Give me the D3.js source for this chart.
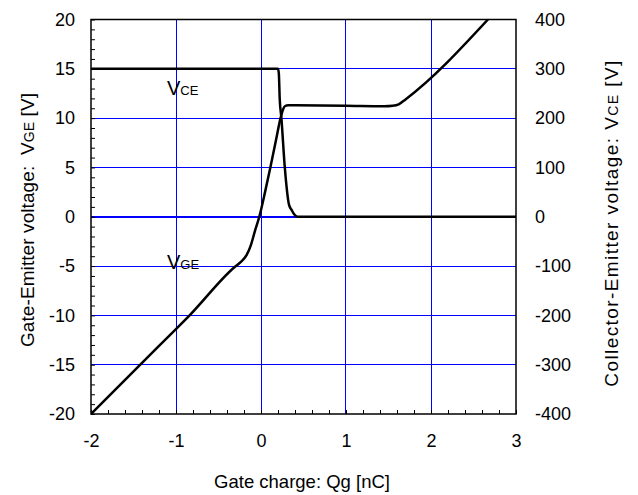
<!DOCTYPE html>
<html><head><meta charset="utf-8">
<script src="https://cdn.jsdelivr.net/npm/d3@7"></script>
<style>body{margin:0;background:#fff}svg{font-family:"Liberation Sans",Arial,sans-serif}</style>
</head><body><svg id="c" width="638" height="495"></svg>
<script>
// Data
const xTicks = [-2,-1,0,1,2,3];
const yLeftTicks = [-20,-15,-10,-5,0,5,10,15,20];
const yRightTicks = [-400,-300,-200,-100,0,100,200,300,400];
// Gate-emitter voltage VGE [V] vs gate charge Qg [nC]
const vgeQ = [-2,-1.2,-0.84,-0.31,-0.24,-0.17,-0.12,-0.07,-0.02,0.05,0.11,0.17,0.23,0.26,0.28,0.32,1.0,1.45,1.55,1.62,1.7,2.67];
const vgeV = [-20,-13.1,-10,-5.1,-4.6,-3.9,-2.9,-1.4,0,2.6,5,7.5,10,10.9,11.2,11.3,11.25,11.2,11.25,11.4,11.9,20];
// Collector-emitter voltage VCE [V] vs gate charge Qg [nC]
const vceQ = [-2,0.2,0.21,0.22,0.24,0.28,0.33,0.36,0.39,0.43,3];
const vceV = [300,300,290,240,200,100,24,14,5,0,0];

const svg = d3.select("#c");
const L=91,R=516,T=19.5,B=414;
const x = d3.scaleLinear([-2,3],[L,R]);
const y = d3.scaleLinear([-20,20],[B,T]);
const yR = d3.scaleLinear([-400,400],[B,T]);
const fmt = d => String(d);
const snap = v => Math.floor(v) + 0.5;

// grid
const g = svg.append("g").attr("class","grid").attr("shape-rendering","crispEdges");
g.selectAll("line.gx").data(xTicks.filter(d=>d>-2&&d<3)).join("line").attr("class","gx")
  .attr("x1",d=>snap(x(d))).attr("x2",d=>snap(x(d))).attr("y1",T).attr("y2",B)
  .attr("stroke","#0000ff").attr("stroke-width",1);
g.selectAll("line.gy").data(yLeftTicks.filter(d=>d>-20&&d<20&&d!==0)).join("line").attr("class","gy")
  .attr("x1",L).attr("x2",R).attr("y1",d=>snap(y(d))).attr("y2",d=>snap(y(d)))
  .attr("stroke","#0000ff").attr("stroke-width",1);
g.append("line").attr("x1",L).attr("x2",R).attr("y1",y(0)).attr("y2",y(0))
  .attr("stroke","#0000ff").attr("stroke-width",2.5);

// minor ticks via axes
const minorY = d3.range(-20,21,1);
const ay = svg.append("g").attr("transform",`translate(${L},0)`)
  .call(d3.axisRight(y).tickValues(minorY).tickSize(4).tickFormat(""));
const minorX = d3.range(0,26).map(i=>-2+i*0.2);
const ax = svg.append("g").attr("transform",`translate(0,${B})`)
  .call(d3.axisTop(x).tickValues(minorX).tickSize(4).tickFormat(""));
[ay,ax].forEach(a=>{a.select(".domain").remove();a.selectAll("line").attr("stroke","#000").attr("stroke-width",1);});

// tick labels
const axL = svg.append("g").attr("transform",`translate(${L},0)`)
  .call(d3.axisLeft(y).tickValues(yLeftTicks).tickSize(0).tickPadding(16).tickFormat(fmt));
const axR = svg.append("g").attr("transform",`translate(${R},0)`)
  .call(d3.axisRight(yR).tickValues(yRightTicks).tickSize(0).tickPadding(19).tickFormat(fmt));
const axB = svg.append("g").attr("transform",`translate(0,${B})`)
  .call(d3.axisBottom(x).tickValues(xTicks).tickSize(0).tickPadding(20).tickFormat(fmt));
[axL,axR,axB].forEach(a=>{a.select(".domain").remove();
  a.selectAll("text").attr("font-size",18).attr("fill","#000").attr("font-family","Liberation Sans, Arial, sans-serif");});

// clip
svg.append("clipPath").attr("id","clip").append("rect").attr("x",L).attr("y",T).attr("width",R-L).attr("height",B-T);

const line = d3.line().curve(d3.curveMonotoneX);
svg.append("path").attr("clip-path","url(#clip)")
  .attr("d", line(vceQ.map((q,i)=>[x(q),yR(vceV[i])])))
  .attr("fill","none").attr("stroke","#000").attr("stroke-width",2.5);
svg.append("path").attr("clip-path","url(#clip)")
  .attr("d", line(vgeQ.map((q,i)=>[x(q),y(vgeV[i])])))
  .attr("fill","none").attr("stroke","#000").attr("stroke-width",2.5);

// frame
svg.append("rect").attr("x",L).attr("y",T).attr("width",R-L).attr("height",B-T)
  .attr("fill","none").attr("stroke","#000").attr("stroke-width",1.5);

// in-plot labels
function lab(xp, yp, main, s){
  const t = svg.append("text").attr("x",xp).attr("y",yp).attr("font-size",20);
  t.append("tspan").text(main);
  t.append("tspan").attr("font-size",13).text(s);
}
lab(167,95,"V","CE");
lab(167,269,"V","GE");

// axis titles
function title(tx, ty, pre, s, post, fs, ss, target){
  const t = svg.append("text").attr("transform",`translate(${tx},${ty}) rotate(-90)`)
    .attr("text-anchor","middle").attr("font-size",fs).style("white-space","pre");
  t.append("tspan").text(pre);
  t.append("tspan").attr("font-size",ss).text(s);
  t.append("tspan").text(post);
  const w = t.node().getComputedTextLength();
  const n = (pre+s+post).length;
  if (target && w < target) t.attr("letter-spacing", (target-w)/(n-1));
  return t;
}
title(34,220,"Gate-Emitter voltage:  V","GE"," [V]",19,14,254);
title(618,223,"Collector-Emitter voltage: V","CE"," [V]",19,14,326);
svg.append("text").attr("x",302).attr("y",488).attr("text-anchor","middle").attr("font-size",18.5)
  .text("Gate charge: Qg [nC]");
</script></body></html>
